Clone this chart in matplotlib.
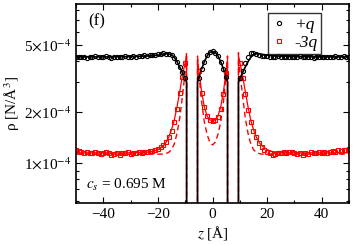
import numpy as np
import matplotlib
matplotlib.use('Agg')
import matplotlib.pyplot as plt
from matplotlib.ticker import FixedLocator, NullFormatter

plt.rcParams['font.family'] = ['Liberation Serif', 'DejaVu Serif']
plt.rcParams['mathtext.fontset'] = 'stix'

# simulation points, density in units of 1e-4 N/A^3
z_left = np.arange(-50, -9, 1)
z_mid = np.arange(-5, 6, 1)
z_right = np.arange(10, 51, 1)

plus_left = [4.25, 4.22, 4.27, 4.24, 4.2, 4.26, 4.23, 4.28, 4.25, 4.22, 4.26, 4.29, 4.24, 4.21, 4.26,
             4.27, 4.23, 4.25, 4.3, 4.26, 4.24, 4.28, 4.27, 4.31, 4.29, 4.33, 4.3, 4.34, 4.38, 4.36,
             4.4, 4.42, 4.45, 4.43,
             4.44, 4.35, 4.2, 3.95, 3.7, 3.45, 3.2]
plus_mid = [3.2, 3.6, 3.95, 4.35, 4.55, 4.6, 4.5, 4.3, 3.95, 3.6, 3.25]
plus_right = [3.2, 3.5, 3.9, 4.25, 4.45, 4.5, 4.42,
              4.35, 4.32, 4.28, 4.3, 4.26, 4.27, 4.24, 4.28, 4.25, 4.22, 4.26, 4.24, 4.27, 4.23,
              4.25, 4.28, 4.22, 4.26, 4.24, 4.25, 4.21, 4.26, 4.23, 4.27, 4.24, 4.26, 4.22, 4.25,
              4.28, 4.24, 4.26, 4.3, 4.27, 4.25]

minus_left = [1.2, 1.18, 1.17, 1.15, 1.16, 1.14, 1.15, 1.16, 1.15, 1.13, 1.14, 1.17, 1.15, 1.12,
              1.13, 1.14, 1.12, 1.15, 1.14, 1.16, 1.13, 1.15, 1.14, 1.16, 1.15, 1.17, 1.16, 1.18,
              1.18, 1.2, 1.22, 1.25, 1.28, 1.34, 1.42, 1.55, 1.75, 2.1, 2.6, 3.25, 3.9]
minus_mid = [3.5, 2.6, 2.15, 1.9, 1.8, 1.78, 1.8, 1.88, 2.1, 2.55, 3.4]
minus_right = [3.9, 3.2, 2.55, 2.05, 1.75, 1.55, 1.42, 1.32, 1.25, 1.2, 1.16, 1.14, 1.12,
               1.13, 1.15, 1.14, 1.16, 1.15, 1.17, 1.16, 1.14, 1.13, 1.15, 1.12, 1.14, 1.13,
               1.16, 1.15, 1.14, 1.17, 1.15, 1.16, 1.14, 1.17, 1.18, 1.16, 1.19, 1.18, 1.2,
               1.19, 1.21]

# theory curves (zero inside the walls)
z_th = [-50, -40, -30, -24, -22, -20, -18, -17, -16, -15, -14, -13, -12, -11, -10, -9.5,
        -9.5, -5.5,
        -5.5, -5, -4, -3, -2, -1, 0, 1, 2, 3, 4, 5, 5.5,
        5.5, 9.5,
        9.5, 10, 11, 12, 13, 14, 15, 16, 17, 18, 20, 22, 24, 30, 40, 50]
plus_th = [4.25, 4.25, 4.27, 4.3, 4.32, 4.35, 4.4, 4.43, 4.43, 4.38, 4.22, 3.98, 3.7, 3.42, 3.17, 3.0,
           0, 0,
           3.0, 3.2, 3.6, 3.98, 4.3, 4.52, 4.58, 4.52, 4.3, 3.98, 3.6, 3.2, 3.0,
           0, 0,
           3.0, 3.17, 3.42, 3.7, 3.98, 4.22, 4.38, 4.43, 4.43, 4.4, 4.35, 4.32, 4.3, 4.27, 4.25, 4.25]
minus_th = [1.15, 1.15, 1.15, 1.16, 1.17, 1.2, 1.27, 1.33, 1.43, 1.58, 1.8, 2.15, 2.65, 3.3, 3.95, 4.3,
            0, 0,
            4.1, 3.5, 2.65, 2.15, 1.9, 1.8, 1.78, 1.8, 1.9, 2.15, 2.65, 3.5, 4.1,
            0, 0,
            4.3, 3.95, 3.3, 2.65, 2.15, 1.8, 1.58, 1.43, 1.33, 1.27, 1.2, 1.17, 1.16, 1.15, 1.15, 1.15]
minus_th2 = [1.13, 1.13, 1.13, 1.13, 1.13, 1.13, 1.13, 1.14, 1.16, 1.2, 1.3, 1.5, 1.85, 2.5, 3.5, 4.5,
             0, 0,
             4.3, 3.4, 2.3, 1.75, 1.48, 1.33, 1.28, 1.33, 1.48, 1.75, 2.3, 3.4, 4.3,
             0, 0,
             4.5, 3.5, 2.5, 1.85, 1.5, 1.3, 1.2, 1.16, 1.14, 1.13, 1.13, 1.13, 1.13, 1.13, 1.13, 1.13]

scale = 1e-4
z_all = np.concatenate([z_left, z_mid, z_right])
plus_all = np.array(plus_left + plus_mid + plus_right) * scale
minus_all = np.array(minus_left + minus_mid + minus_right) * scale

fig = plt.figure(figsize=(3.54, 2.45), dpi=100)
ax = fig.add_axes([0.2147, 0.171, 0.7713, 0.813])

ax.plot(z_th, np.array(minus_th2) * scale, color='red', lw=1.0, ls=(0, (4, 2.5)))
ax.plot(z_th, np.array(minus_th) * scale, color='red', lw=0.9)
ax.plot(z_th, np.array(plus_th) * scale, color='black', lw=1.2)
ax.plot(z_all, minus_all, ls='none', marker='s', ms=3.3, mfc='none', mec='red', mew=0.8, label='-3q')
ax.plot(z_all, plus_all, ls='none', marker='o', ms=3.0, mfc='none', mec='black', mew=0.8, label='+q')

ax.set_yscale('log', nonpositive='clip')
ax.set_xlim(-50, 50)
ax.set_ylim(0.58e-4, 8.74e-4)

ax.set_xticks([-40, -20, 0, 20, 40])
ax.set_xticks(np.arange(-50, 51, 10), minor=True)
ax.yaxis.set_major_locator(FixedLocator([1e-4, 2e-4, 5e-4]))
ax.set_yticklabels([r'1$\times$10$^{-4}$', r'2$\times$10$^{-4}$', r'5$\times$10$^{-4}$'])
ax.yaxis.set_minor_locator(FixedLocator([0.6e-4, 0.7e-4, 0.8e-4, 0.9e-4, 3e-4, 4e-4, 6e-4, 7e-4, 8e-4]))
ax.yaxis.set_minor_formatter(NullFormatter())
ax.tick_params(which='both', direction='in', top=True, right=True, labelsize=11)
ax.tick_params(which='major', length=4, width=0.8)
ax.tick_params(which='minor', length=2.5, width=0.8)
for s in ax.spines.values():
    s.set_linewidth(1.2)

ax.set_xlabel(r'$z$ [Å]', fontsize=11, labelpad=2)
ax.set_ylabel(r'ρ [N/Å$^3$]', fontsize=11, labelpad=1)

ax.text(0.044, 0.91, '(f)', transform=ax.transAxes, fontsize=12, va='center')
ax.text(0.035, 0.09, r'$c_s$ = 0.695 M', transform=ax.transAxes, fontsize=11, va='center')

h, l = ax.get_legend_handles_labels()
leg = ax.legend(h[::-1], l[::-1], loc='upper right', bbox_to_anchor=(0.91, 0.97),
                prop={'family': 'Liberation Serif', 'style': 'italic', 'size': 12.5},
                frameon=True, fancybox=False, edgecolor='black', handlelength=0.8,
                handletextpad=0.5, borderpad=0.2, labelspacing=0.1, markerscale=1.0,
                borderaxespad=0.2)
leg.get_frame().set_linewidth(1.0)

fig.savefig('out.png', dpi=100)
